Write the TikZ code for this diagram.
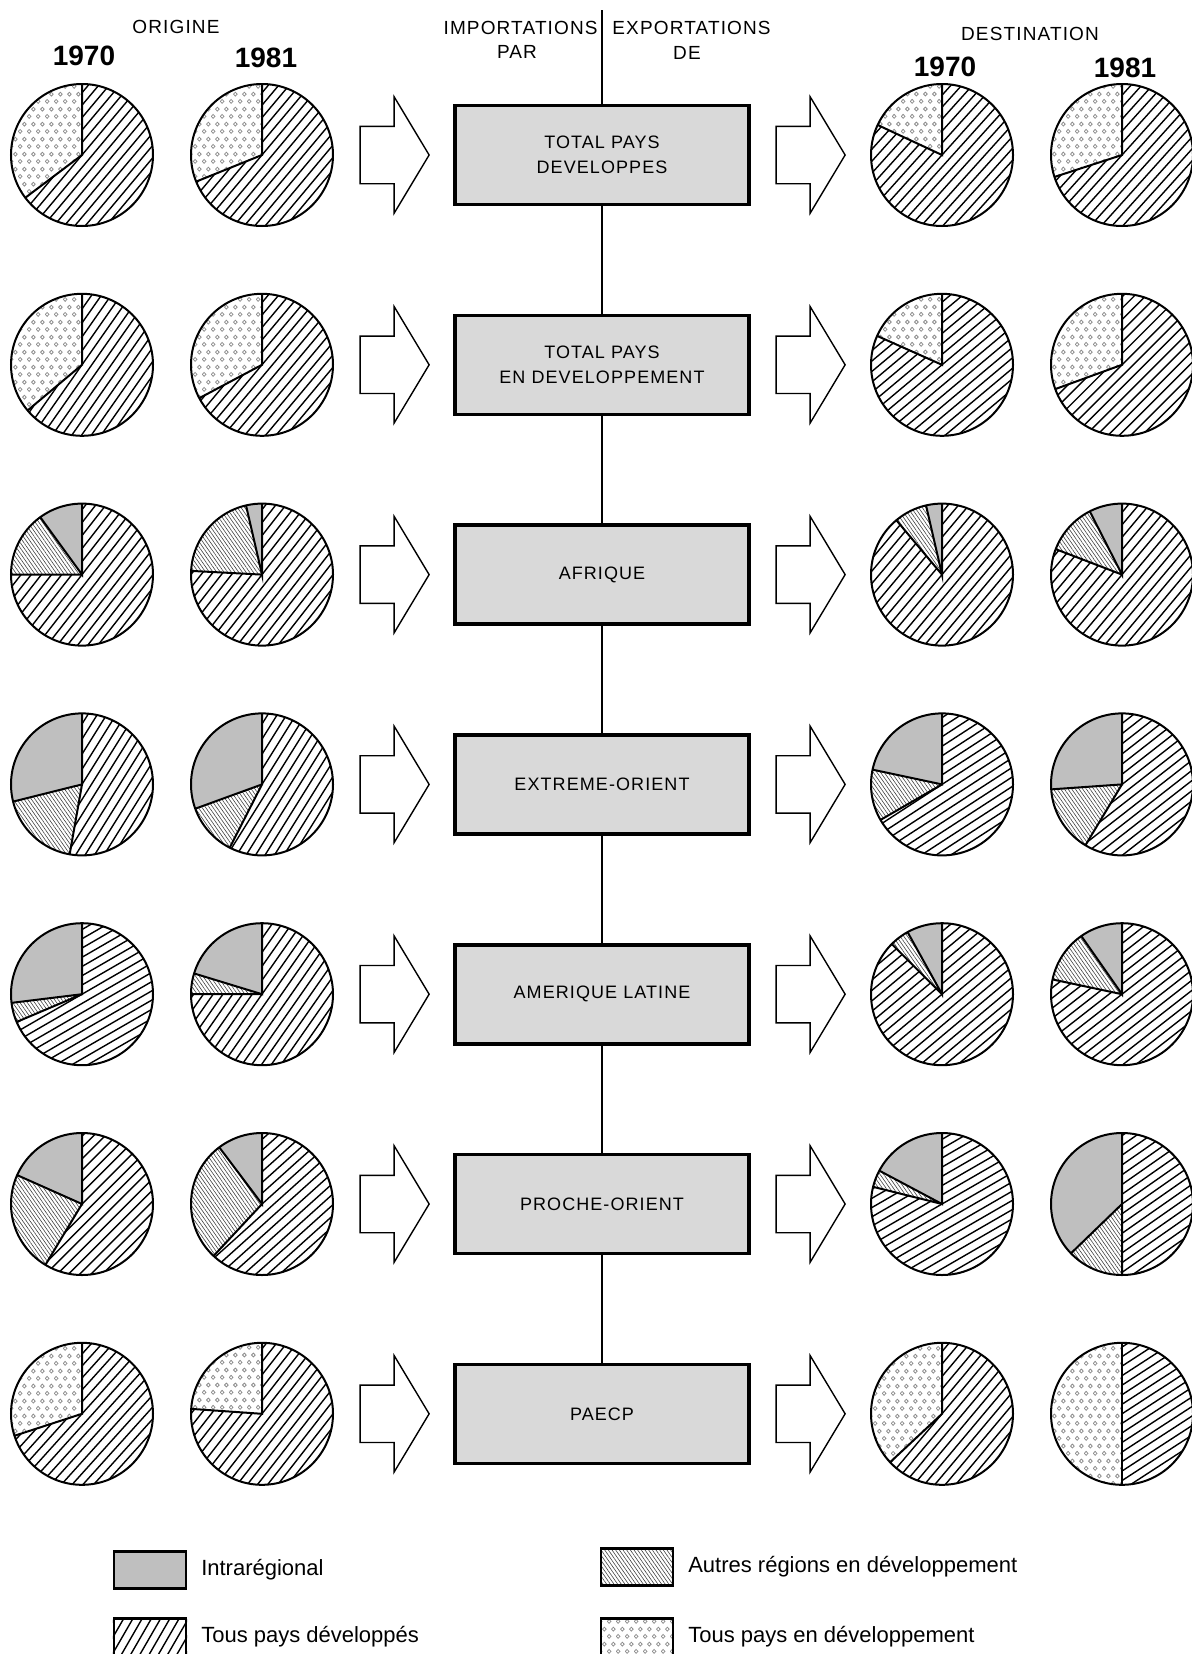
\documentclass[tikz,border=0pt]{standalone}
\usepackage{fontspec}
\setmainfont{Liberation Sans}
\newfontfamily\espace[LetterSpace=6]{Liberation Sans}
\usetikzlibrary{positioning,shapes.arrows,patterns.meta}

\tikzdeclarepattern{
  name=rings,
  type=uncolored,
  bottom left={(0pt,0pt)},
  top right={(4.6pt,7.6pt)},
  tile size={(4.6pt,7.6pt)},
  code={
    \draw[line width=.45pt] (1.15pt,1.9pt) circle[radius=1pt];
    \draw[line width=.45pt] (3.45pt,5.7pt) circle[radius=1pt];
  }
}

% hachures: chemin de clip, centre, angle
\newcommand{\hachurer}[3]{%
  \begin{scope}
    \clip #1;
    \begin{scope}[shift={(#2)}, rotate=#3]
      \foreach \k in {-10,...,10} \draw[hachure] (-90,\k*8) -- (90,\k*8);
    \end{scope}
  \end{scope}}

% camembert: centre, fin des points, angle des hachures
\newcommand{\piedots}[3]{%
  \fill[dvpt] (#1) -- ++(90:71) arc[start angle=90, end angle=#2, radius=71] -- cycle;
  \hachurer{(#1) -- ++(#2:71) arc[start angle=#2, end angle=450, radius=71] -- cycle}{#1}{#3}
  \draw[pieline] (#1) circle[radius=71];
  \draw[pieline] (#1) ++(90:71) -- (#1) -- ++(#2:71);
}
% camembert: centre, fin intraregional, fin autres regions, angle des hachures
\newcommand{\pieregion}[4]{%
  \fill[intra] (#1) -- ++(90:71) arc[start angle=90, end angle=#2, radius=71] -- cycle;
  \fill[autres] (#1) -- ++(#2:71) arc[start angle=#2, end angle=#3, radius=71] -- cycle;
  \hachurer{(#1) -- ++(#3:71) arc[start angle=#3, end angle=450, radius=71] -- cycle}{#1}{#4}
  \draw[pieline] (#1) circle[radius=71];
  \draw[pieline] (#1) ++(90:71) -- (#1) -- ++(#2:71) (#1) -- ++(#3:71);
}

\begin{document}
\begin{tikzpicture}[x=0.5pt, y=0.5pt,
    pieline/.style={line width=1pt},
    hachure/.style={line width=.7pt},
    intra/.style={fill=gray!50},
    autres/.style={pattern={Lines[angle=-55,distance=1.5pt,line width=.3pt]}, pattern color=black!75},
    dvpt/.style={pattern=rings, pattern color=gray!90},
    region/.style={draw, line width=1.8pt, fill=gray!30, minimum width=147pt, minimum height=49.5pt,
      align=center, font=\espace\fontsize{9}{12.5}\selectfont, on grid, node distance=104.9pt},
    bigarrow/.style={single arrow, draw, line width=.7pt, inner xsep=0pt, inner ysep=14pt,
      minimum height=34.5pt, single arrow head extend=14.75pt, single arrow tip angle=118, on grid},
    entete/.style={inner sep=1pt, font=\espace\fontsize{9.5}{11}\selectfont},
    annee/.style={inner sep=1pt, font=\bfseries\fontsize{14}{14}\selectfont},
    cle/.style={draw, line width=1.2pt, minimum width=36pt, minimum height=18.5pt, inner sep=0pt},
    legende/.style={font=\fontsize{11}{13}\selectfont},
    axe/.style={line width=1.3pt}]
\useasboundingbox (0,0) rectangle (1191,-1654);

\node[entete] (origine) at (176,-27) {ORIGINE};
\node[annee] (o70) at (84,-56) {1970};
\node[annee] (o81) at (266,-58) {1981};
\node[entete, anchor=east] (imp) at (600,-28) {IMPORTATIONS};
\node[entete] (par) at (517,-52) {PAR};
\node[entete, anchor=west] (exp) at (610,-28) {EXPORTATIONS};
\node[entete] (de) at (687,-53) {DE};
\node[entete] (dest) at (1030,-34) {DESTINATION};
\node[annee] (d70) at (945,-67) {1970};
\node[annee] (d81) at (1125,-68) {1981};

\node[region] (tpd) at (602,-155) {TOTAL PAYS\\DEVELOPPES};
\node[region, below=of tpd] (tped) {TOTAL PAYS\\EN DEVELOPPEMENT};
\node[region, below=of tped] (afr) {AFRIQUE};
\node[region, below=of afr] (eo) {EXTREME-ORIENT};
\node[region, below=of eo] (al) {AMERIQUE LATINE};
\node[region, below=of al] (po) {PROCHE-ORIENT};
\node[region, below=of po] (paecp) {PAECP};

\coordinate (haut) at (602,-10);
\draw[axe] (haut) -- (tpd) (tpd) -- (tped) (tped) -- (afr) (afr) -- (eo)
  (eo) -- (al) (al) -- (po) (po) -- (paecp);

\foreach \b in {tpd,tped,afr,eo,al,po,paecp}{
  \node[bigarrow, left=108pt of \b] (\b-fg) {};
  \node[bigarrow, right=100pt of \b] (\b-fd) {};
  \coordinate[on grid, left=260pt of \b] (\b-o70);
  \coordinate[on grid, left=170pt of \b] (\b-o81);
  \coordinate[on grid, right=170pt of \b] (\b-d70);
  \coordinate[on grid, right=260pt of \b] (\b-d81);
}

\piedots{tpd-o70}{217}{50}
\piedots{tpd-o81}{202}{50}
\piedots{tpd-d70}{155}{48}
\piedots{tpd-d81}{198}{48}

\piedots{tped-o70}{220}{55}
\piedots{tped-o81}{208}{50}
\piedots{tped-d70}{156}{40}
\piedots{tped-d81}{200}{45}

\pieregion{afr-o70}{126}{180}{52}
\pieregion{afr-o81}{103}{177}{52}
\pieregion{afr-d70}{103}{130}{50}
\pieregion{afr-d81}{117}{159}{50}

\pieregion{eo-o70}{194}{260}{58}
\pieregion{eo-o81}{200}{243}{58}
\pieregion{eo-d70}{168}{210}{33}
\pieregion{eo-d81}{184}{239}{38}

\pieregion{al-o70}{187}{203}{30}
\pieregion{al-o81}{163}{180}{55}
\pieregion{al-d70}{119}{135}{40}
\pieregion{al-d81}{125}{168}{38}

\pieregion{po-o70}{156}{239}{45}
\pieregion{po-o81}{127}{227}{42}
\pieregion{po-d70}{152}{166}{30}
\pieregion{po-d81}{224}{270}{35}

\piedots{paecp-o70}{198}{48}
\piedots{paecp-o81}{176}{52}
\piedots{paecp-d70}{223}{50}
\piedots{paecp-d81}{270}{33}

\node[cle, intra] (k1) at (150,-1570) {};
\node[legende, right=3.5pt of k1] (t1) {Intrarégional};
\node[cle] (k2) at (150,-1637) {};
\hachurer{(k2.south west) rectangle (k2.north east)}{k2}{60}
\node[legende, right=3.5pt of k2] (t2) {Tous pays développés};
\node[cle, autres] (k3) at (637,-1567) {};
\node[legende, right=3.5pt of k3] (t3) {Autres régions en développement};
\node[cle, dvpt] (k4) at (637,-1637) {};
\node[legende, right=3.5pt of k4] (t4) {Tous pays en développement};
\end{tikzpicture}
\end{document}
